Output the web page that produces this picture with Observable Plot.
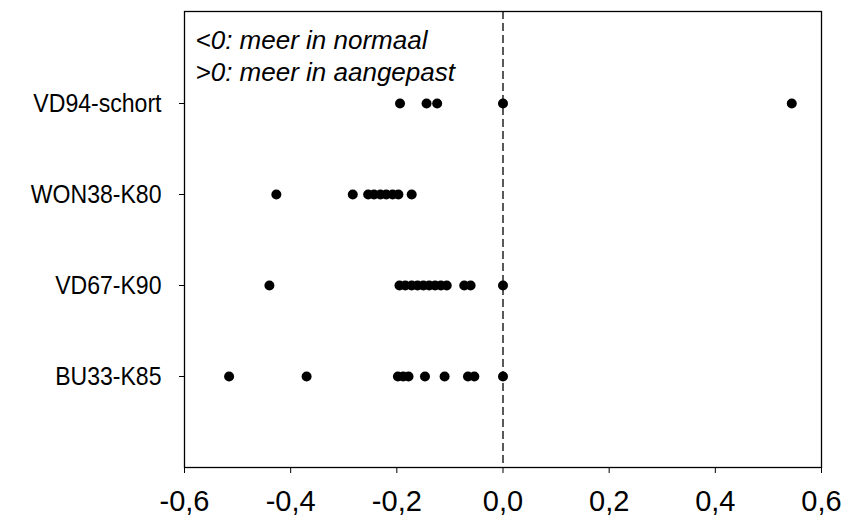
<!DOCTYPE html>
<html>
<head>
<meta charset="utf-8">
<script src="https://cdn.jsdelivr.net/npm/d3@7"></script>
<script src="https://cdn.jsdelivr.net/npm/@observablehq/plot@0.6"></script>
<style>
  html, body { margin: 0; padding: 0; background: #fff; }
  #chart svg { display: block; }
</style>
</head>
<body>
<div id="chart"></div>
<script>
// Categories (top to bottom)
const categories = ["VD94-schort", "WON38-K80", "VD67-K90", "BU33-K85"];

// Differences per category
const vd94 = [-0.194, -0.144, -0.124, 0.0, 0.544];
const won38 = [-0.427, -0.283, -0.254, -0.243, -0.231, -0.220, -0.208, -0.197, -0.172];
const vd67 = [-0.440, -0.195, -0.184, -0.172, -0.161, -0.150, -0.139, -0.128, -0.117, -0.106, -0.073, -0.061, 0.0];
const bu33 = [-0.516, -0.370, -0.198, -0.188, -0.178, -0.147, -0.110, -0.066, -0.054, 0.0];

const xTicks = [-0.6, -0.4, -0.2, 0.0, 0.2, 0.4, 0.6];
const notes = ["<0: meer in normaal", ">0: meer in aangepast"];

const series = [vd94, won38, vd67, bu33];
const points = categories.flatMap((c, i) => series[i].map(v => ({cat: c, value: v})));

const font = '"Liberation Sans", Arial, sans-serif';

const chart = Plot.plot({
  width: 842,
  height: 528,
  marginLeft: 184,
  marginRight: 21,
  marginTop: 11,
  marginBottom: 61,
  style: {fontFamily: font, color: "#000", background: "#fff"},
  x: {domain: [-0.6, 0.6], label: null, axis: null},
  y: {type: "point", domain: categories, padding: 1, label: null, axis: null},
  marks: [
    Plot.frame({stroke: "#000", strokeWidth: 1.3}),
    Plot.ruleX([0], {stroke: "#000", strokeDasharray: "8,4", strokeWidth: 1.3}),
    Plot.dot(points, {x: "value", y: "cat", r: 5, fill: "#000", stroke: "none"}),
    Plot.axisX({
      ticks: xTicks,
      tickFormat: d => d3.format(".1f")(d).replace("−", "-").replace(".", ","),
      tickSize: 6,
      tickPadding: 17,
      fontSize: 29,
      label: null
    }),
    Plot.axisY({
      tickSize: 5,
      tickPadding: 18,
      fontSize: 26.5,
      label: null
    }),
    Plot.text([notes.join("\n")], {
      text: d => d,
      frameAnchor: "top-left",
      lineAnchor: "top",
      lineHeight: 1.25,
      dx: 11,
      dy: 14,
      fontSize: 26,
      fontStyle: "italic"
    })
  ]
});

document.getElementById("chart").appendChild(chart);

// Condense the y-axis category labels horizontally (narrow sans look of the
// original), without touching their positions.
chart.querySelectorAll("g[text-anchor='end'] text").forEach(t => {
  if (t.querySelector("tspan")) return;
  const len = t.getComputedTextLength();
  if (len > 0) {
    t.setAttribute("textLength", (len * 0.87).toFixed(2));
    t.setAttribute("lengthAdjust", "spacingAndGlyphs");
  }
});
</script>
</body>
</html>
